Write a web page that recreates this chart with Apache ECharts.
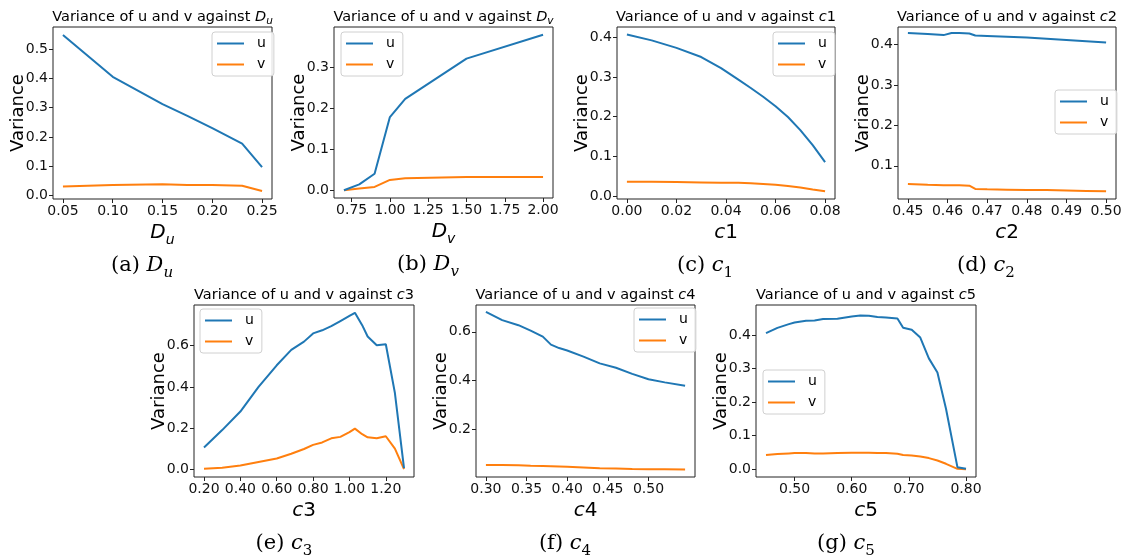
<!DOCTYPE html>
<html>
<head>
<meta charset="utf-8">
<script src="https://cdn.jsdelivr.net/npm/echarts@6/dist/echarts.min.js"></script>
<style>
  html, body { margin: 0; background: #fff; }
  #chart { width: 1124px; height: 560px; }
</style>
</head>
<body>
<div id="chart"></div>
<script>
// ---- data ----
// (a) D_u
const duX = [0.05, 0.10, 0.15, 0.175, 0.20, 0.23, 0.25]
const duU = [0.548, 0.405, 0.312, 0.272, 0.230, 0.177, 0.097]
const duV = [0.031, 0.036, 0.038, 0.036, 0.036, 0.033, 0.015]
const duXTicks = [0.05, 0.10, 0.15, 0.20, 0.25]
const duYTicks = [0.0, 0.1, 0.2, 0.3, 0.4, 0.5]

// (b) D_v
const dvX = [0.7, 0.8, 0.9, 1.0, 1.1, 1.5, 2.0]
const dvU = [0.0, 0.014, 0.040, 0.178, 0.222, 0.320, 0.378]
const dvV = [0.0, 0.004, 0.008, 0.025, 0.029, 0.032, 0.032]
const dvXTicks = [0.75, 1.00, 1.25, 1.50, 1.75, 2.00]
const dvYTicks = [0.0, 0.1, 0.2, 0.3]

// (c) c1
const c1X = [0, 0.01, 0.02, 0.03, 0.038, 0.045, 0.05, 0.055, 0.06, 0.065, 0.07, 0.075, 0.08]
const c1U = [0.407, 0.392, 0.373, 0.350, 0.322, 0.293, 0.272, 0.250, 0.226, 0.199, 0.166, 0.128, 0.085]
const c1V = [0.036, 0.036, 0.035, 0.034, 0.033, 0.033, 0.032, 0.030, 0.028, 0.025, 0.021, 0.016, 0.012]
const c1XTicks = [0.00, 0.02, 0.04, 0.06, 0.08]
const c1YTicks = [0.0, 0.1, 0.2, 0.3, 0.4]

// (d) c2
const c2X = [0.45, 0.455, 0.459, 0.461, 0.463, 0.4655, 0.467, 0.47, 0.475, 0.48, 0.485, 0.49, 0.495, 0.50]
const c2U = [0.428, 0.426, 0.423, 0.428, 0.428, 0.427, 0.422, 0.421, 0.419, 0.417, 0.414, 0.411, 0.408, 0.405]
const c2V = [0.055, 0.053, 0.052, 0.052, 0.052, 0.051, 0.043, 0.042, 0.041, 0.040, 0.040, 0.039, 0.038, 0.037]
const c2XTicks = [0.45, 0.46, 0.47, 0.48, 0.49, 0.50]
const c2YTicks = [0.1, 0.2, 0.3, 0.4]

// (e) c3
const c3X = [0.2, 0.3, 0.4, 0.5, 0.6, 0.68, 0.75, 0.8, 0.85, 0.9, 0.95, 1.0, 1.03, 1.07, 1.1, 1.15, 1.2, 1.25, 1.3]
const c3U = [0.105, 0.19, 0.28, 0.40, 0.505, 0.58, 0.62, 0.66, 0.675, 0.695, 0.72, 0.745, 0.76, 0.70, 0.645, 0.602, 0.607, 0.37, 0.005]
const c3V = [0.002, 0.007, 0.018, 0.035, 0.052, 0.075, 0.098, 0.118, 0.13, 0.15, 0.157, 0.18, 0.197, 0.17, 0.155, 0.15, 0.16, 0.10, 0.0]
const c3XTicks = [0.20, 0.40, 0.60, 0.80, 1.00, 1.20]
const c3YTicks = [0.0, 0.2, 0.4, 0.6]

// (f) c4
const c4X = [0.30, 0.32, 0.34, 0.355, 0.37, 0.38, 0.39, 0.40, 0.42, 0.44, 0.46, 0.48, 0.50, 0.52, 0.545]
const c4U = [0.682, 0.648, 0.627, 0.605, 0.580, 0.547, 0.533, 0.523, 0.498, 0.470, 0.452, 0.427, 0.405, 0.392, 0.378]
const c4V = [0.052, 0.052, 0.051, 0.049, 0.048, 0.047, 0.046, 0.045, 0.042, 0.039, 0.038, 0.036, 0.035, 0.035, 0.034]
const c4XTicks = [0.30, 0.35, 0.40, 0.45, 0.50]
const c4YTicks = [0.2, 0.4, 0.6]

// (g) c5
const c5X = [0.45, 0.47, 0.49, 0.50, 0.52, 0.535, 0.55, 0.575, 0.60, 0.615, 0.63, 0.645, 0.66, 0.68, 0.69, 0.705, 0.72, 0.735, 0.75, 0.765, 0.785, 0.80]
const c5U = [0.405, 0.421, 0.432, 0.437, 0.442, 0.443, 0.447, 0.448, 0.455, 0.458, 0.457, 0.453, 0.452, 0.449, 0.421, 0.415, 0.392, 0.330, 0.288, 0.180, 0.006, 0.001]
const c5V = [0.042, 0.045, 0.047, 0.048, 0.048, 0.047, 0.047, 0.048, 0.049, 0.049, 0.049, 0.048, 0.048, 0.046, 0.042, 0.041, 0.038, 0.033, 0.026, 0.016, 0.001, 0.0]
const c5XTicks = [0.50, 0.60, 0.70, 0.80]
const c5YTicks = [0.0, 0.1, 0.2, 0.3, 0.4]

// ---- layout ----
const FONT = 'DejaVu Sans'
const SERIF = 'DejaVu Serif'
const U_COLOR = '#1f77b4'
const V_COLOR = '#ff7f0e'

// box: [left, top, right, bottom] of the plot frame
const panels = [
  { box: [53, 27, 272, 199], xr: [0.04, 0.26], yr: [-0.012, 0.575], x: duX, u: duU, v: duV,
    xt: duXTicks, yt: duYTicks, xd: 2, yd: 1, sym: '{i|D}{s|u}',
    cap: '(a) {i|D}{s|u}', capX: 142, leg: [212, 32] },
  { box: [334, 27, 553, 198], xr: [0.635, 2.065], yr: [-0.019, 0.397], x: dvX, u: dvU, v: dvV,
    xt: dvXTicks, yt: dvYTicks, xd: 2, yd: 1, sym: '{i|D}{s|v}',
    cap: '(b) {i|D}{s|v}', capX: 428, leg: [341, 32] },
  { box: [617, 27, 835, 199], xr: [-0.004, 0.084], yr: [-0.0077, 0.4257], x: c1X, u: c1U, v: c1V,
    xt: c1XTicks, yt: c1YTicks, xd: 2, yd: 1, sym: '{i|c}1',
    cap: '(c) {i|c}{n|1}', capX: 705, leg: [773, 32] },
  { box: [898, 27, 1116, 199], xr: [0.4475, 0.5025], yr: [0.018, 0.443], x: c2X, u: c2U, v: c2V,
    xt: c2XTicks, yt: c2YTicks, xd: 2, yd: 1, sym: '{i|c}2',
    cap: '(d) {i|c}{n|2}', capX: 986, leg: [1055, 90] },
  { box: [194, 305, 414, 477], xr: [0.145, 1.355], yr: [-0.038, 0.798], x: c3X, u: c3U, v: c3V,
    xt: c3XTicks, yt: c3YTicks, xd: 2, yd: 1, sym: '{i|c}3',
    cap: '(e) {i|c}{n|3}', capX: 284, leg: [200, 309] },
  { box: [476, 305, 695, 477], xr: [0.2878, 0.5572], yr: [0.003, 0.71], x: c4X, u: c4U, v: c4V,
    xt: c4XTicks, yt: c4YTicks, xd: 2, yd: 1, sym: '{i|c}4',
    cap: '(f) {i|c}{n|4}', capX: 565, leg: [634, 308] },
  { box: [756, 305, 976, 477], xr: [0.4325, 0.8175], yr: [-0.0233, 0.489], x: c5X, u: c5U, v: c5V,
    xt: c5XTicks, yt: c5YTicks, xd: 2, yd: 1, sym: '{i|c}5',
    cap: '(g) {i|c}{n|5}', capX: 846, leg: [763, 370] }
]

const fmt = dec => v => Number(v).toFixed(dec)

// title subscript pushed down with top padding
const titleRich = {
  i: { fontSize: 14.5, fontFamily: FONT, fontStyle: 'italic', color: '#000', lineHeight: 22, verticalAlign: 'middle' },
  s: { fontSize: 10.5, fontFamily: FONT, fontStyle: 'italic', color: '#000', padding: [9, 0, 0, 0], verticalAlign: 'middle' }
}
const nameRich = {
  i: { fontSize: 20, fontFamily: FONT, fontStyle: 'italic', color: '#000', lineHeight: 28, verticalAlign: 'middle' },
  s: { fontSize: 14, fontFamily: FONT, fontStyle: 'italic', color: '#000', lineHeight: 14, verticalAlign: 'bottom' }
}
const capRich = {
  i: { fontSize: 21, fontFamily: SERIF, fontStyle: 'italic', color: '#000', lineHeight: 30, verticalAlign: 'middle' },
  s: { fontSize: 15, fontFamily: SERIF, fontStyle: 'italic', color: '#000', lineHeight: 15, verticalAlign: 'bottom' },
  n: { fontSize: 15, fontFamily: SERIF, color: '#000', lineHeight: 15, verticalAlign: 'bottom' }
}

const title = []
const grid = []
const xAxis = []
const yAxis = []
const legend = []
const series = []

panels.forEach((p, k) => {
  const [l, t, r, b] = p.box
  const cx = (l + r) / 2
  title.push({
    text: 'Variance of u and v against ' + p.sym,
    left: cx, top: t - 21, textAlign: 'center', padding: 0,
    textStyle: { fontSize: 14.5, fontWeight: 'normal', fontFamily: FONT, color: '#000', lineHeight: 22, rich: titleRich }
  })
  title.push({
    text: p.cap,
    left: p.capX, top: b + 52, textAlign: 'center', padding: 0,
    textStyle: { fontSize: 21, fontWeight: 'normal', fontFamily: SERIF, color: '#000', lineHeight: 30, rich: capRich }
  })
  grid.push({
    left: l, top: t, width: r - l, height: b - t,
    show: true, borderColor: '#222', borderWidth: 1, backgroundColor: '#fff',
    containLabel: false, outerBoundsMode: 'none'
  })
  xAxis.push({
    gridIndex: k, type: 'value', min: p.xr[0], max: p.xr[1],
    splitLine: { show: false },
    axisLine: { show: false, onZero: false },
    axisTick: { show: true, customValues: p.xt, length: 4, lineStyle: { color: '#222' } },
    axisLabel: { show: true, customValues: p.xt, formatter: fmt(p.xd), fontSize: 14, fontFamily: FONT, color: '#111', margin: 5 },
    name: p.sym, nameLocation: 'middle', nameGap: 17,
    nameTextStyle: { fontSize: 20, fontFamily: FONT, color: '#000', lineHeight: 28, rich: nameRich }
  })
  yAxis.push({
    gridIndex: k, type: 'value', min: p.yr[0], max: p.yr[1],
    splitLine: { show: false },
    axisLine: { show: false, onZero: false },
    axisTick: { show: true, customValues: p.yt, length: 4, lineStyle: { color: '#222' } },
    axisLabel: { show: true, customValues: p.yt, formatter: fmt(p.yd), fontSize: 14, fontFamily: FONT, color: '#111', margin: 5 },
    name: 'Variance', nameLocation: 'middle', nameGap: 26, nameMoveOverlap: false,
    nameTextStyle: { fontSize: 18, fontFamily: FONT, color: '#000' }
  })
  legend.push({
    data: ['u', 'v'], orient: 'vertical', left: p.leg[0], top: p.leg[1],
    selectedMode: false, icon: 'rect', itemWidth: 27, itemHeight: 2, itemGap: 4,
    padding: [3, 8, 3, 5],
    borderColor: '#d0d0d0', borderWidth: 1, borderRadius: 3,
    backgroundColor: 'rgba(255,255,255,0.85)',
    textStyle: { fontSize: 14, fontFamily: FONT, color: '#000', lineHeight: 17, padding: [0, 0, 0, 8] }
  })
  series.push({
    name: 'u', type: 'line', xAxisIndex: k, yAxisIndex: k,
    data: p.x.map((xv, i) => [xv, p.u[i]]),
    symbol: 'none', color: U_COLOR, lineStyle: { color: U_COLOR, width: 2 }, animation: false, z: 3
  })
  series.push({
    name: 'v', type: 'line', xAxisIndex: k, yAxisIndex: k,
    data: p.x.map((xv, i) => [xv, p.v[i]]),
    symbol: 'none', color: V_COLOR, lineStyle: { color: V_COLOR, width: 2 }, animation: false, z: 2
  })
})

const chart = echarts.init(document.getElementById('chart'), null, { renderer: 'canvas' })
chart.setOption({
  animation: false,
  backgroundColor: '#fff',
  title, grid, xAxis, yAxis, legend, series
})
</script>
</body>
</html>
